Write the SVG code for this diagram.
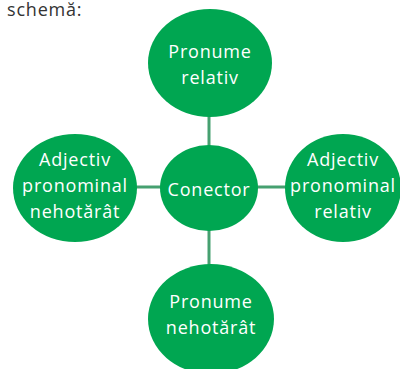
<svg xmlns="http://www.w3.org/2000/svg" width="400" height="369" viewBox="0 0 400 369">
<style>
.n{fill:#00a651}
.t{fill:#fff;font-family:"Open Sans","Noto Sans",sans-serif;font-size:18px;letter-spacing:0.8px;text-anchor:middle}
.c{stroke:#46a070;stroke-width:3;fill:none}
</style>
<rect width="400" height="369" fill="#fff"/>
<text x="7" y="16" font-family="Open Sans, Noto Sans, sans-serif" font-size="18" letter-spacing="0.8" fill="#333">schemă:</text>
<g id="connectors">
<line class="c" x1="209" y1="110" x2="209" y2="150"/>
<line class="c" x1="209" y1="225" x2="209" y2="270"/>
<line class="c" x1="130" y1="187" x2="165" y2="187"/>
<line class="c" x1="253" y1="187" x2="290" y2="187"/>
</g>
<g id="pronume-relativ">
<ellipse class="n" cx="210" cy="63" rx="62" ry="54"/>
<text class="t" x="210" y="58">Pronume</text>
<text class="t" x="210" y="84">relativ</text>
</g>
<g id="conector">
<ellipse class="n" cx="209" cy="188" rx="49" ry="43"/>
<text class="t" x="209" y="196">Conector</text>
</g>
<g id="adjectiv-nehotarat">
<ellipse class="n" cx="75" cy="188" rx="62" ry="54"/>
<text class="t" x="75" y="166">Adjectiv</text>
<text class="t" x="75" y="192">pronominal</text>
<text class="t" x="75" y="218">nehotărât</text>
</g>
<g id="adjectiv-relativ">
<ellipse class="n" cx="343" cy="188" rx="58" ry="54"/>
<text class="t" x="343" y="166">Adjectiv</text>
<text class="t" x="343" y="192">pronominal</text>
<text class="t" x="343" y="218">relativ</text>
</g>
<g id="pronume-nehotarat">
<ellipse class="n" cx="211" cy="319" rx="63" ry="55"/>
<text class="t" x="211" y="308">Pronume</text>
<text class="t" x="211" y="334">nehotărât</text>
</g>
</svg>
